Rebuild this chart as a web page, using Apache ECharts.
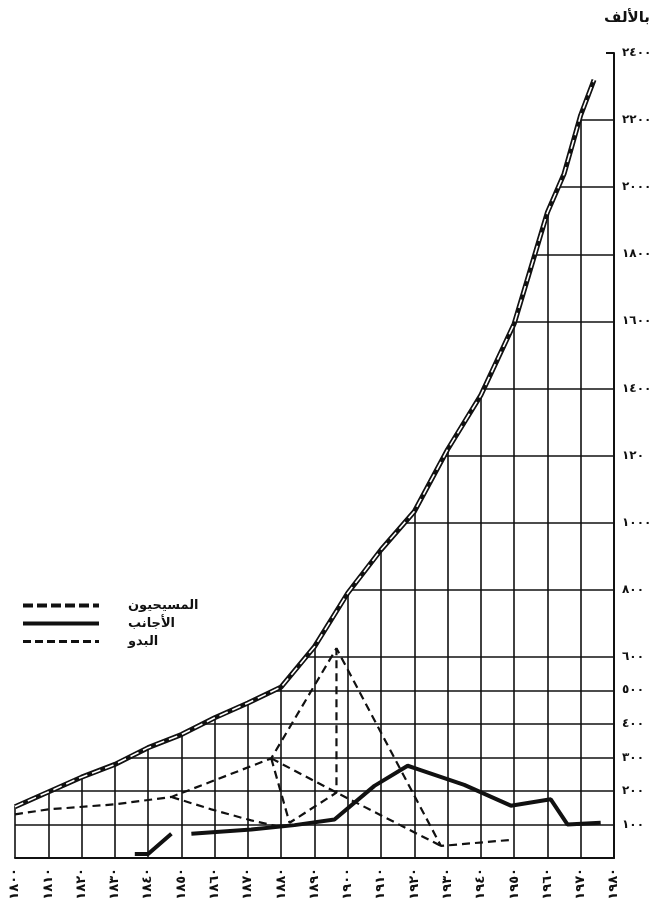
<!DOCTYPE html>
<html>
<head>
<meta charset="utf-8">
<script src="https://cdn.jsdelivr.net/npm/echarts@6/dist/echarts.min.js"></script>
<style>
  html, body { margin: 0; padding: 0; background: #fff; }
  #chart { width: 663px; height: 914px; }
</style>
</head>
<body>
<div id="chart"></div>
<script>
// decades on the bottom axis
var xYears = [1800, 1810, 1820, 1830, 1840, 1850, 1860, 1870, 1880, 1890,
              1900, 1910, 1920, 1930, 1940, 1950, 1960, 1970, 1980];

// right axis: values that carry a grid line and a label
var yTickValues = [100, 200, 300, 400, 500, 600, 800, 1000, 1200, 1400,
                   1600, 1800, 2000, 2200, 2400];
var yTickLabels = ['١٠٠', '٢٠٠', '٣٠٠', '٤٠٠', '٥٠٠', '٦٠٠', '٨٠٠', '١٠٠٠', '١٢٠',
                   '١٤٠٠', '١٦٠٠', '١٨٠٠', '٢٠٠٠', '٢٢٠٠', '٢٤٠٠'];

// المسيحيون (thousands)
var christians = [[1800, 153], [1810, 197], [1820, 241], [1830, 279], [1840, 329],
                  [1850, 368], [1860, 418], [1870, 462], [1880, 510], [1890, 630],
                  [1900, 790], [1910, 919], [1920, 1033], [1930, 1218], [1940, 1380],
                  [1950, 1593], [1960, 1925], [1965, 2040], [1970, 2215], [1974, 2320]];

// الأجانب, drawn in two pieces
var foreignersA = [[1836, 12], [1840, 12], [1847, 72]];
var foreignersB = [[1853, 72], [1871, 85], [1884, 98], [1896, 115], [1908, 215],
                   [1918, 275], [1921, 265], [1935, 218], [1949, 156], [1961, 175],
                   [1966, 100], [1976, 105]];

// البدو, several dashed strokes
var bedouinMain = [[1800, 130], [1810, 145], [1830, 160], [1847, 182], [1877, 297],
                   [1896.6, 625], [1928, 36], [1949, 54]];
var bedouinFall = [[1877, 297], [1896.6, 195], [1928, 36]];
var bedouinDrop = [[1877, 297], [1882.5, 105], [1896.6, 195], [1896.6, 625]];
var bedouinLow = [[1847, 182], [1859, 145], [1871, 112], [1880, 92]];

var legendNames = ['المسيحيون', 'الأجانب', 'البدو'];

function arabicDigits(n) {
    var d = '٠١٢٣٤٥٦٧٨٩';
    return String(n).replace(/[0-9]/g, function (c) { return d[+c]; });
}

var xMin = xYears[0];
var xMax = xYears[xYears.length - 1];
var yMax = 2400;

// grid line colours per 100-step tick (only listed values get a line)
var yLineColors = [];
for (var v = 0; v <= yMax; v += 100) {
    yLineColors.push(yTickValues.indexOf(v) >= 0 && v < yMax ? '#111' : 'rgba(0,0,0,0)');
}

// white fill above the main curve, nudged past the left border so it hides that line too
var maskData = [[xMin - 0.6, christians[0][1]]].concat(christians);

var chart = echarts.init(document.getElementById('chart'));

var font = 'DejaVu Sans';
var dashed = function (name, data) {
    return {
        name: name, type: 'line', data: data, symbol: 'none', z: 4, color: '#111',
        lineStyle: {color: '#111', width: 2.2, type: [8, 5]}
    };
};

var option = {
    backgroundColor: '#fff',
    animation: false,
    title: {
        text: 'بالألف',
        right: 8, top: 6,
        textStyle: {fontFamily: font, fontSize: 15, fontWeight: 'bold', color: '#111'}
    },
    legend: {
        data: [
            {name: legendNames[0], lineStyle: {type: [10, 4], width: 4}},
            {name: legendNames[1], lineStyle: {width: 4}},
            {name: legendNames[2], lineStyle: {width: 3, type: [8, 4]}}
        ],
        orient: 'vertical',
        left: 16, top: 594,
        itemWidth: 76, itemHeight: 12, itemGap: 5,
        itemStyle: {opacity: 0},
        selectedMode: false,
        textStyle: {fontFamily: font, fontSize: 13, fontWeight: 'bold', color: '#111',
                    padding: [0, 0, 0, 24]}
    },
    grid: {left: 15, right: 49, top: 53, bottom: 56},
    xAxis: {
        type: 'value',
        min: xMin, max: xMax, interval: 10,
        axisLine: {lineStyle: {color: '#111', width: 2}},
        axisTick: {show: false},
        splitLine: {lineStyle: {color: '#111', width: 1.6}},
        axisLabel: {
            rotate: 90, margin: 10,
            fontFamily: font, fontSize: 13, fontWeight: 'bold', color: '#111',
            formatter: function (val) { return arabicDigits(val); }
        }
    },
    yAxis: {
        type: 'value',
        position: 'right',
        min: 0, max: yMax, interval: 100,
        axisLine: {show: true, lineStyle: {color: '#111', width: 2}},
        axisTick: {show: false},
        splitLine: {lineStyle: {color: yLineColors, width: 1.6}},
        axisLabel: {
            margin: 8,
            fontFamily: font, fontSize: 12, fontWeight: 'bold', color: '#111',
            formatter: function (val) {
                var i = yTickValues.indexOf(val);
                return i >= 0 ? yTickLabels[i] : '';
            }
        }
    },
    series: [
        {   // blank out the grid above the main curve
            name: 'mask', type: 'line', data: maskData, symbol: 'none', silent: true, z: 1,
            clip: false,
            lineStyle: {opacity: 0},
            areaStyle: {color: '#fff', opacity: 1, origin: 'end'},
            // short tick at the top of the right axis
            markLine: {
                silent: true, symbol: 'none', label: {show: false},
                lineStyle: {color: '#111', width: 2, type: 'solid'},
                data: [[{coord: [xMax - 2.4, yMax]}, {coord: [xMax, yMax]}]]
            }
        },
        {
            name: legendNames[0], type: 'line', data: christians, symbol: 'none', z: 5,
            color: '#111',
            lineStyle: {color: '#111', width: 5}
        },
        {
            name: 'inner', type: 'line', data: christians, symbol: 'none', z: 6, silent: true,
            lineStyle: {color: '#fff', width: 1.6, type: [9, 5]}
        },
        {
            name: legendNames[1], type: 'line', data: foreignersA, symbol: 'none', z: 4,
            color: '#111',
            lineStyle: {color: '#111', width: 4}
        },
        {
            name: legendNames[1], type: 'line', data: foreignersB, symbol: 'none', z: 4,
            color: '#111',
            lineStyle: {color: '#111', width: 4}
        },
        dashed(legendNames[2], bedouinMain),
        dashed(legendNames[2], bedouinFall),
        dashed(legendNames[2], bedouinDrop),
        dashed(legendNames[2], bedouinLow)
    ]
};

chart.setOption(option);
</script>
</body>
</html>
